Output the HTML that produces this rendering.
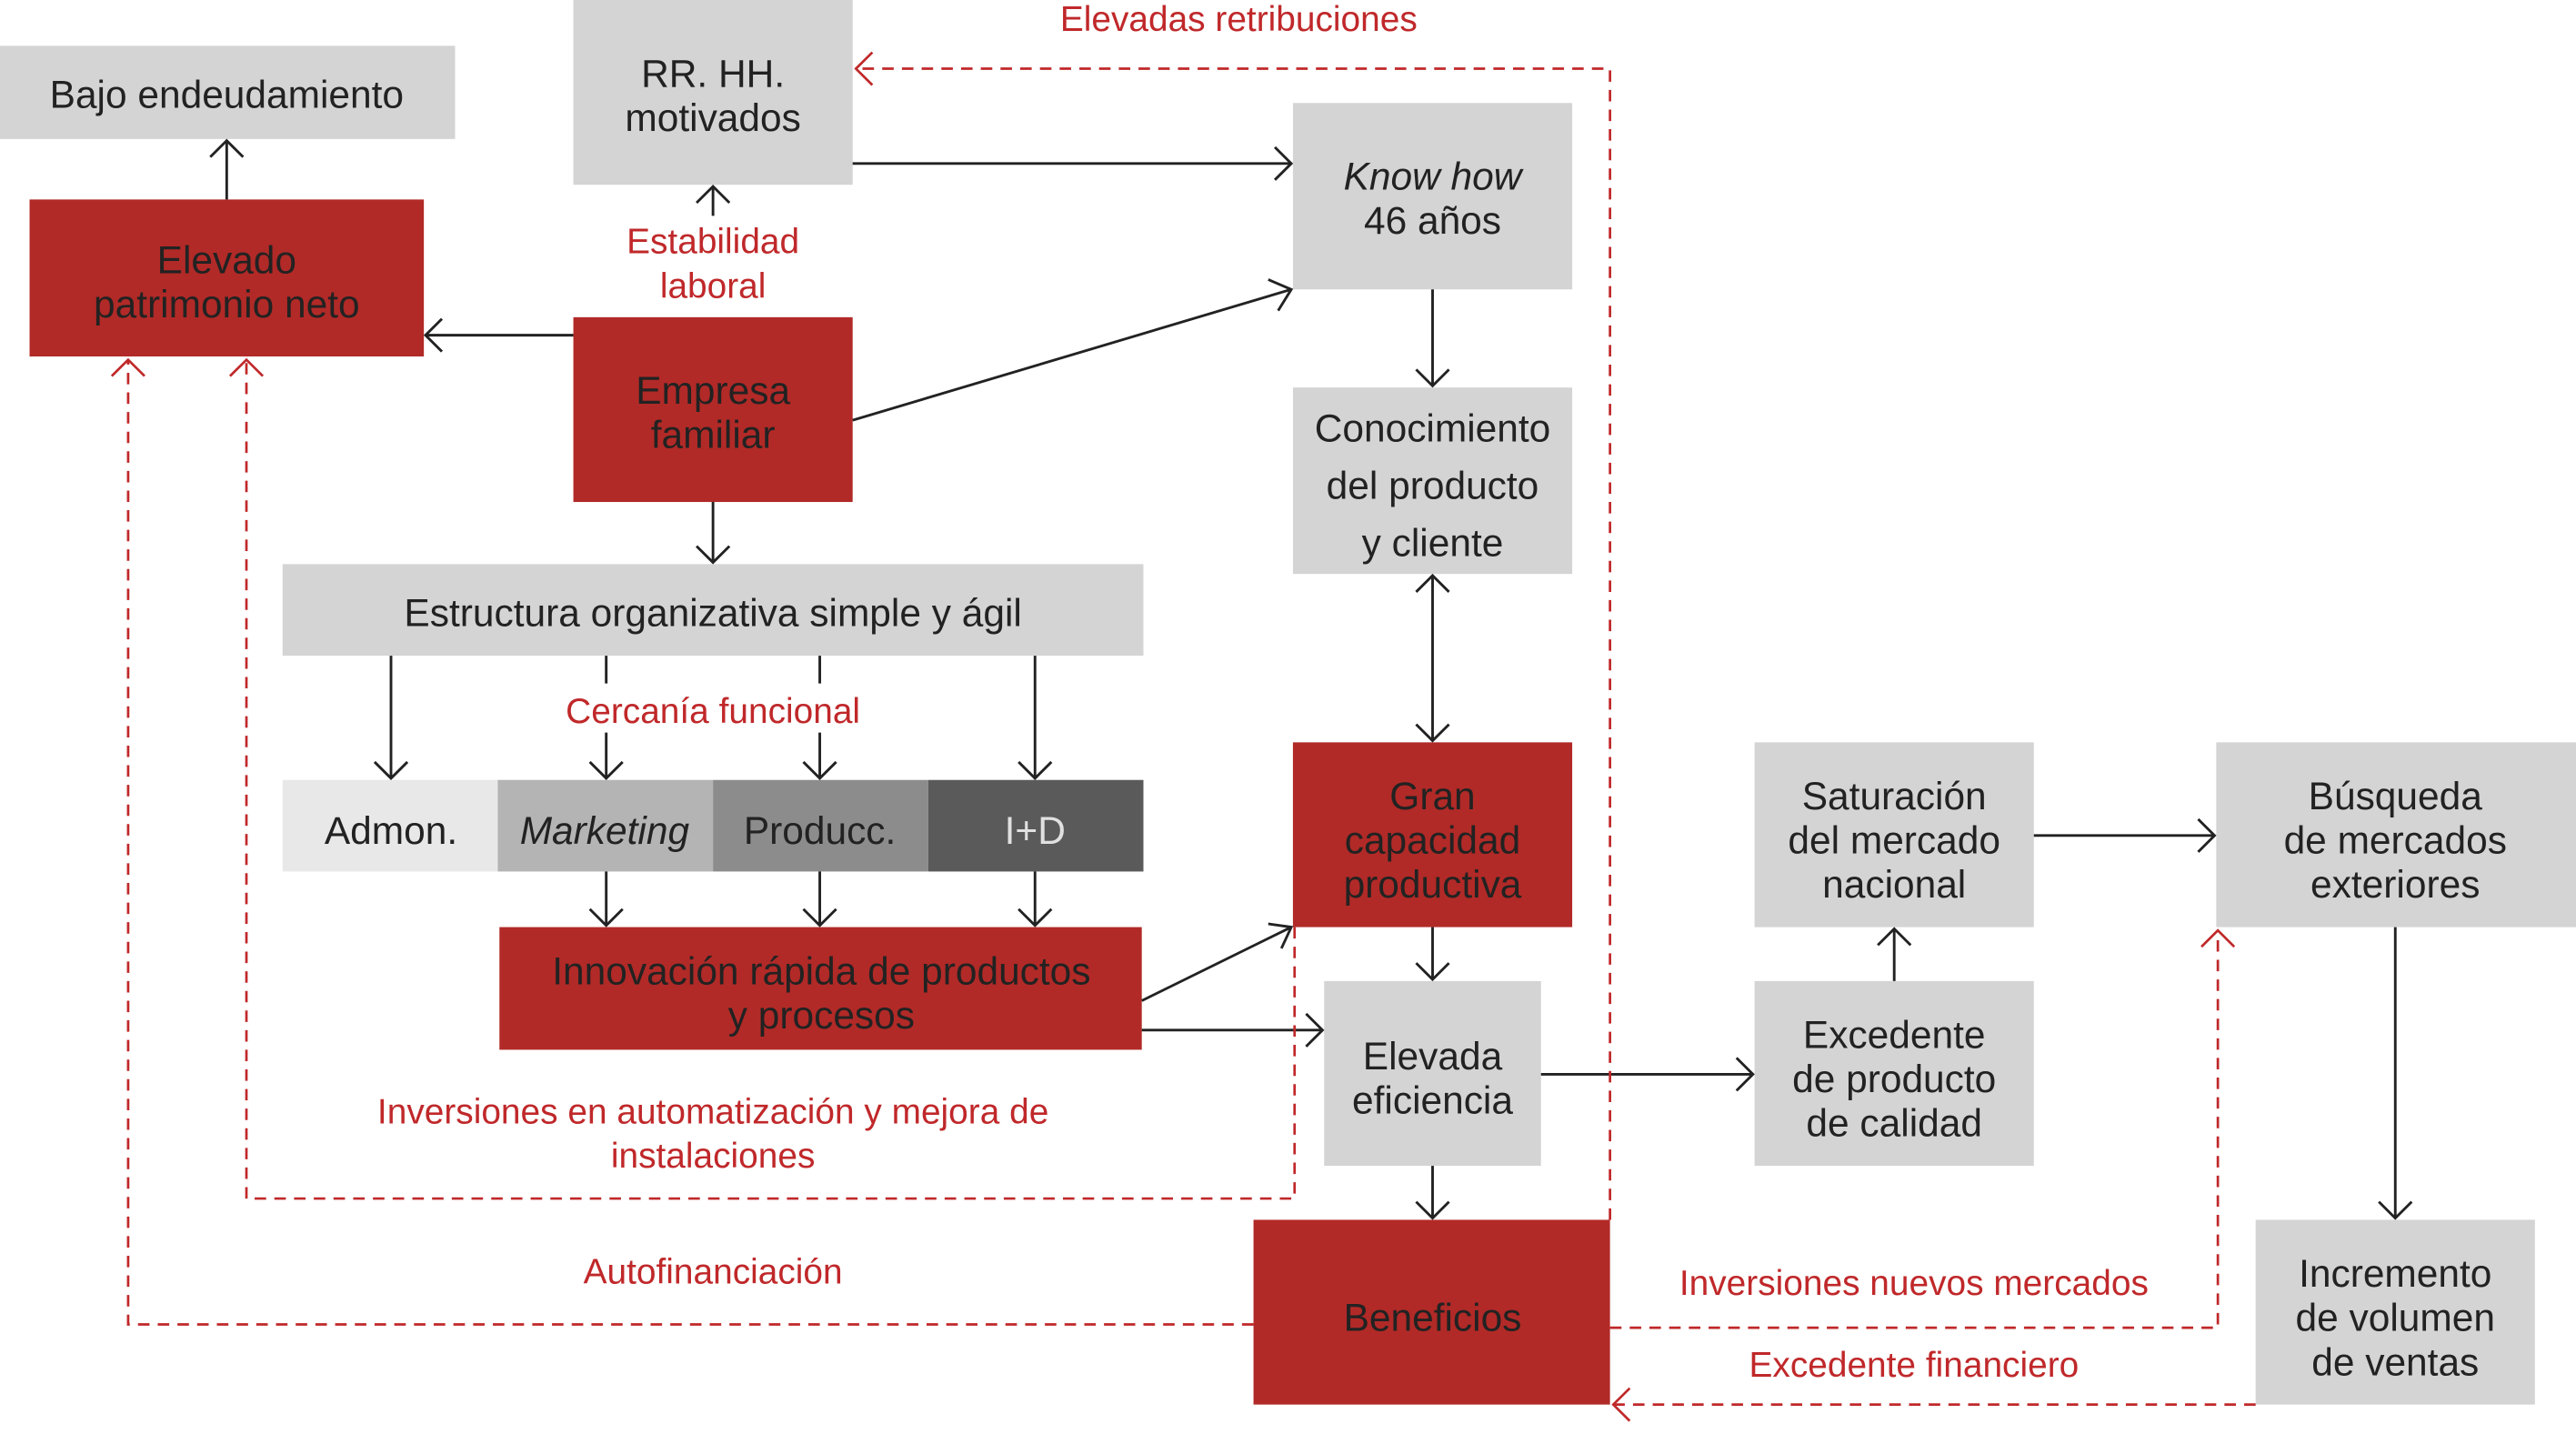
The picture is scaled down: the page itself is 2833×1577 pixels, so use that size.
<!DOCTYPE html>
<html><head><meta charset="utf-8"><style>
html,body{margin:0;padding:0;background:#fff;}
svg{display:block;}
text{font-family:"Liberation Sans",sans-serif;font-size:23.5px;fill:#222;text-anchor:middle;}
.r{fill:#c0282a;}
.g{fill:#d4d4d4;}
.red{fill:#b12a27;}
.ln{stroke:#222;stroke-width:1.6;fill:none;}
.dl{stroke:#c0282a;stroke-width:1.5;fill:none;stroke-dasharray:7,5;}
.ah{stroke:#222;stroke-width:1.6;fill:none;}
.rh{stroke:#c0282a;stroke-width:1.5;fill:none;}
</style></head><body>
<svg width="2833" height="1577" viewBox="0 0 1568 877" preserveAspectRatio="none" xmlns="http://www.w3.org/2000/svg">
<!-- boxes -->
<rect class="g" x="0" y="28" width="277" height="57"/>
<rect class="g" x="349" y="0" width="170" height="113"/>
<rect class="red" x="18" y="122" width="240" height="96"/>
<rect class="red" x="349" y="194" width="170" height="113"/>
<rect class="g" x="787" y="63" width="170" height="114"/>
<rect class="g" x="787" y="237" width="170" height="114"/>
<rect class="g" x="172" y="345" width="524" height="56"/>
<rect fill="#e8e8e8" x="172" y="477" width="131" height="56"/>
<rect fill="#b4b4b4" x="303" y="477" width="131" height="56"/>
<rect fill="#8c8c8c" x="434" y="477" width="131" height="56"/>
<rect fill="#5a5a5a" x="565" y="477" width="131" height="56"/>
<rect class="red" x="304" y="567" width="391" height="75"/>
<rect class="red" x="787" y="454" width="170" height="113"/>
<rect class="g" x="806" y="600" width="132" height="113"/>
<rect class="red" x="763" y="746" width="217" height="113"/>
<rect class="g" x="1068" y="454" width="170" height="113"/>
<rect class="g" x="1068" y="600" width="170" height="113"/>
<rect class="g" x="1349" y="454" width="219" height="113"/>
<rect class="g" x="1373" y="746" width="170" height="113"/>

<!-- texts -->
<text x="138" y="66">Bajo endeudamiento</text>
<text x="434" y="53">RR. HH.</text><text x="434" y="80">motivados</text>
<text x="138" y="167">Elevado</text><text x="138" y="194">patrimonio neto</text>
<text x="434" y="247">Empresa</text><text x="434" y="274">familiar</text>
<text x="872" y="116" font-style="italic">Know how</text><text x="872" y="143">46 años</text>
<text x="872" y="270">Conocimiento</text><text x="872" y="305">del producto</text><text x="872" y="340">y cliente</text>
<text x="434" y="383">Estructura organizativa simple y ágil</text>
<text x="238" y="516">Admon.</text>
<text x="368" y="516" font-style="italic">Marketing</text>
<text x="499" y="516">Producc.</text>
<text x="630" y="516" style="fill:#e0e0e0">I+D</text>
<text x="500" y="602">Innovación rápida de productos</text><text x="500" y="629">y procesos</text>
<text x="872" y="495">Gran</text><text x="872" y="522">capacidad</text><text x="872" y="549">productiva</text>
<text x="872" y="654">Elevada</text><text x="872" y="681">eficiencia</text>
<text x="872" y="814">Beneficios</text>
<text x="1153" y="495">Saturación</text><text x="1153" y="522">del mercado</text><text x="1153" y="549">nacional</text>
<text x="1153" y="641">Excedente</text><text x="1153" y="668">de producto</text><text x="1153" y="695">de calidad</text>
<text x="1458" y="495">Búsqueda</text><text x="1458" y="522">de mercados</text><text x="1458" y="549">exteriores</text>
<text x="1458" y="787">Incremento</text><text x="1458" y="814">de volumen</text><text x="1458" y="841">de ventas</text>

<!-- red labels -->
<text class="r" x="754" y="19" style="font-size:21.5px">Elevadas retribuciones</text>
<text class="r" x="434" y="155" style="font-size:21.5px">Estabilidad</text>
<text class="r" x="434" y="182" style="font-size:21.5px">laboral</text>
<text class="r" x="434" y="442" style="font-size:21.5px">Cercanía funcional</text>
<text class="r" x="434" y="687" style="font-size:21.5px">Inversiones en automatización y mejora de</text>
<text class="r" x="434" y="714" style="font-size:21.5px">instalaciones</text>
<text class="r" x="434" y="785" style="font-size:21.5px">Autofinanciación</text>
<text class="r" x="1165" y="792" style="font-size:21.5px">Inversiones nuevos mercados</text>
<text class="r" x="1165" y="842" style="font-size:21.5px">Excedente financiero</text>

<!-- black lines -->
<path class="ln" d="M138 122V86"/><path class="ah" d="M128 96L138 86L148 96"/>
<path class="ln" d="M349 205H259"/><path class="ah" d="M269 195L259 205L269 215"/>
<path class="ln" d="M434 132V114"/><path class="ah" d="M424 124L434 114L444 124"/>
<path class="ln" d="M519 100H786"/><path class="ah" d="M776 90L786 100L776 110"/>
<path class="ln" d="M519 257L786 177"/><path class="ah" d="M772 171L786 177L778 190"/>
<path class="ln" d="M434 307V344"/><path class="ah" d="M424 334L434 344L444 334"/>
<path class="ln" d="M872 177V236"/><path class="ah" d="M862 226L872 236L882 226"/>
<path class="ln" d="M872 352V453"/><path class="ah" d="M862 443L872 453L882 443"/><path class="ah" d="M862 362L872 352L882 362"/>
<path class="ln" d="M238 401V476"/><path class="ah" d="M228 466L238 476L248 466"/>
<path class="ln" d="M369 401V418M369 448V476"/><path class="ah" d="M359 466L369 476L379 466"/>
<path class="ln" d="M499 401V418M499 448V476"/><path class="ah" d="M489 466L499 476L509 466"/>
<path class="ln" d="M630 401V476"/><path class="ah" d="M620 466L630 476L640 466"/>
<path class="ln" d="M369 533V566"/><path class="ah" d="M359 556L369 566L379 556"/>
<path class="ln" d="M499 533V566"/><path class="ah" d="M489 556L499 566L509 556"/>
<path class="ln" d="M630 533V566"/><path class="ah" d="M620 556L630 566L640 556"/>
<path class="ln" d="M695 612L786 567"/><path class="ah" d="M772 565L786 567L780 580"/>
<path class="ln" d="M695 630H805"/><path class="ah" d="M795 620L805 630L795 640"/>
<path class="ln" d="M872 567V599"/><path class="ah" d="M862 589L872 599L882 589"/>
<path class="ln" d="M872 713V745"/><path class="ah" d="M862 735L872 745L882 735"/>
<path class="ln" d="M938 657H1067"/><path class="ah" d="M1057 647L1067 657L1057 667"/>
<path class="ln" d="M1153 600V568"/><path class="ah" d="M1143 578L1153 568L1163 578"/>
<path class="ln" d="M1238 511H1348"/><path class="ah" d="M1338 501L1348 511L1338 521"/>
<path class="ln" d="M1458 567V745"/><path class="ah" d="M1448 735L1458 745L1468 735"/>

<!-- red dashed -->
<path class="dl" d="M980 746V42H521"/><path class="rh" d="M531 32L521 42L531 52"/>
<path class="dl" d="M763 810H78V220"/><path class="rh" d="M68 230L78 220L88 230"/>
<path class="dl" d="M788 567V733H150V220"/><path class="rh" d="M140 230L150 220L160 230"/>
<path class="dl" d="M980 812H1350V569"/><path class="rh" d="M1340 579L1350 569L1360 579"/>
<path class="dl" d="M1373 859H982"/><path class="rh" d="M992 849L982 859L992 869"/>
</svg>
</body></html>
